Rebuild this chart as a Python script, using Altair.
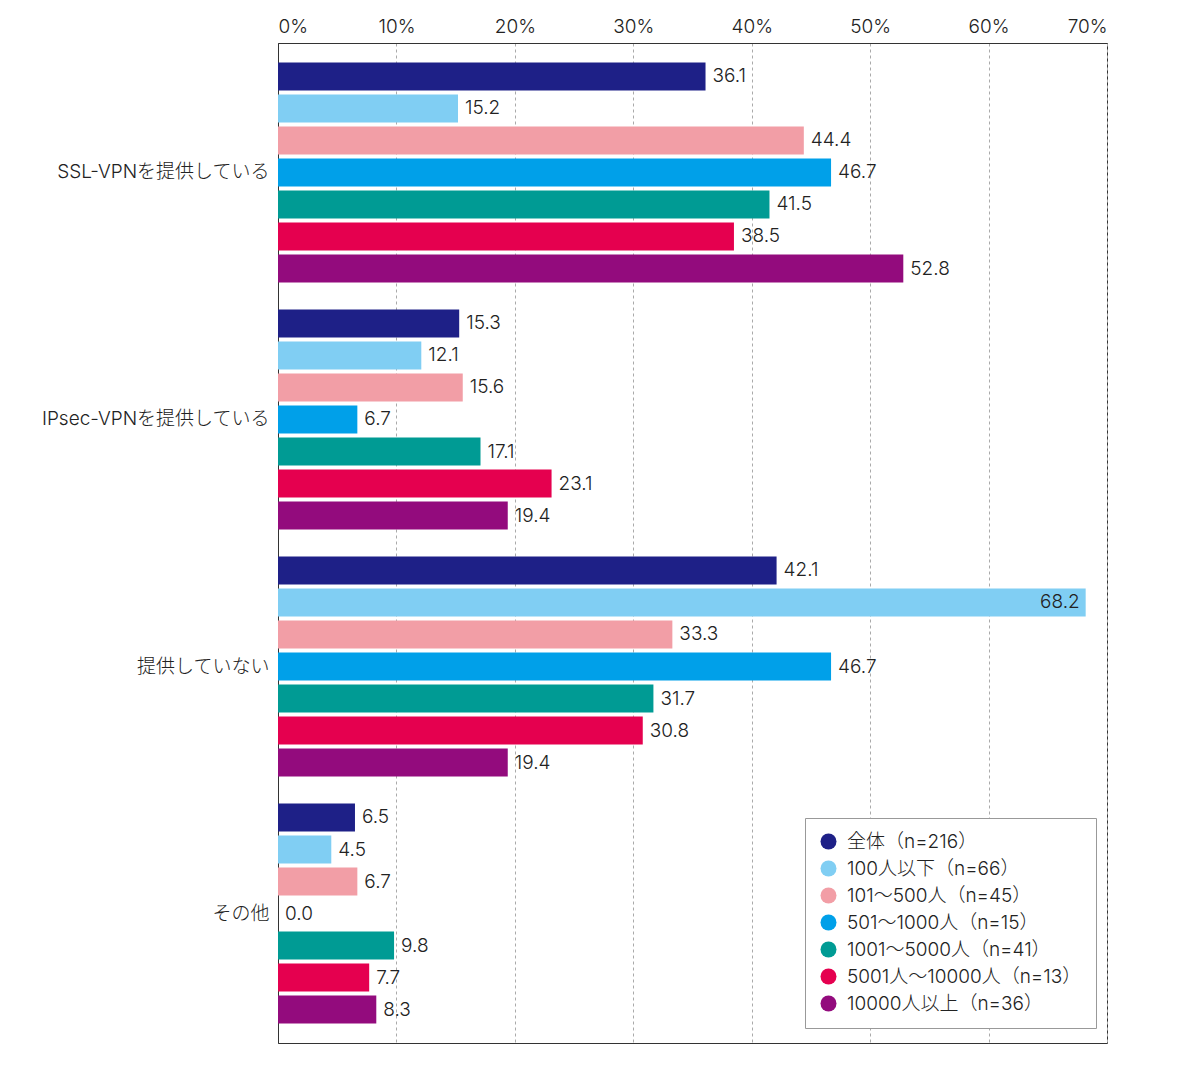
import altair as alt
import pandas as pd

categories = ["SSL-VPNを提供している", "IPsec-VPNを提供している", "提供していない", "その他"]
series = ["全体（n=216）", "100人以下（n=66）", "101～500人（n=45）", "501～1000人（n=15）",
          "1001～5000人（n=41）", "5001人～10000人（n=13）", "10000人以上（n=36）"]
colors = ["#1e2087", "#80cef3", "#f29ea6", "#00a0e9", "#009b94", "#e5004f", "#930b7d"]
values = [
    [36.1, 15.2, 44.4, 46.7, 41.5, 38.5, 52.8],
    [15.3, 12.1, 15.6, 6.7, 17.1, 23.1, 19.4],
    [42.1, 68.2, 33.3, 46.7, 31.7, 30.8, 19.4],
    [6.5, 4.5, 6.7, 0.0, 9.8, 7.7, 8.3],
]
x_ticks = [0, 10, 20, 30, 40, 50, 60, 70]

rows = []
for ci, c in enumerate(categories):
    for si, s in enumerate(series):
        rows.append({"category": c, "series": s, "value": values[ci][si]})
df = pd.DataFrame(rows)

FONT = "Inter, 'Noto Sans CJK JP'"
FS = 19
FW = 300

y_enc = alt.Y("category:N", sort=categories, title=None,
              scale=alt.Scale(paddingInner=0, paddingOuter=0.024),
              axis=alt.Axis(labelFontSize=FS, labelColor="#222", labelPadding=9,
                            ticks=False, domainColor="#333", labelFont=FONT,
                            labelFontWeight=FW, labelLimit=400))
yoff = alt.YOffset("series:N", sort=series,
                   scale=alt.Scale(paddingInner=0.125, paddingOuter=0.42))
x_enc = alt.X("value:Q", title=None,
              scale=alt.Scale(domain=[0, 70], nice=False),
              axis=alt.Axis(orient="top", values=x_ticks, labelExpr="datum.value + '%'",
                            labelFontSize=FS, labelColor="#222", labelPadding=7,
                            labelFontWeight=FW,
                            ticks=False, domain=True, domainColor="#333",
                            grid=True, gridDash=[3, 3], gridColor="#aaa",
                            labelFont=FONT))

base = alt.Chart(df)

bars = base.mark_bar().encode(
    x=x_enc, y=y_enc, yOffset=yoff,
    color=alt.Color("series:N", sort=series,
                    scale=alt.Scale(domain=series, range=colors),
                    legend=alt.Legend(title=None, orient="none", legendX=527, legendY=775,
                                      symbolType="circle", symbolSize=256,
                                      symbolStrokeWidth=0, labelFontSize=FS,
                                      labelFontWeight=FW,
                                      labelColor="#222", labelFont=FONT,
                                      labelOffset=9, rowPadding=7, padding=14,
                                      strokeColor="#999", fillColor="white",
                                      labelLimit=400)),
)

txt_out = base.transform_filter("datum.value < 60").mark_text(
    align="left", baseline="middle", dx=7, fontSize=FS, fontWeight=FW,
    color="#222", font=FONT
).encode(x="value:Q", y=alt.Y("category:N", sort=categories), yOffset=yoff,
         text=alt.Text("value:Q", format=".1f"))

txt_in = base.transform_filter("datum.value >= 60").mark_text(
    align="right", baseline="middle", dx=-6, fontSize=FS, fontWeight=FW,
    color="#222", font=FONT
).encode(x="value:Q", y=alt.Y("category:N", sort=categories), yOffset=yoff,
         text=alt.Text("value:Q", format=".1f"))

chart = alt.layer(bars, txt_out, txt_in).properties(
    width=829, height=1000,
    autosize=alt.AutoSizeParams(type="none"),
    padding={"left": 270, "top": 35, "right": 20, "bottom": 20},
).configure(font=FONT).configure_view(stroke="#333", strokeWidth=1)

chart.save("out.html", embed_options={"renderer": "svg", "actions": False})
